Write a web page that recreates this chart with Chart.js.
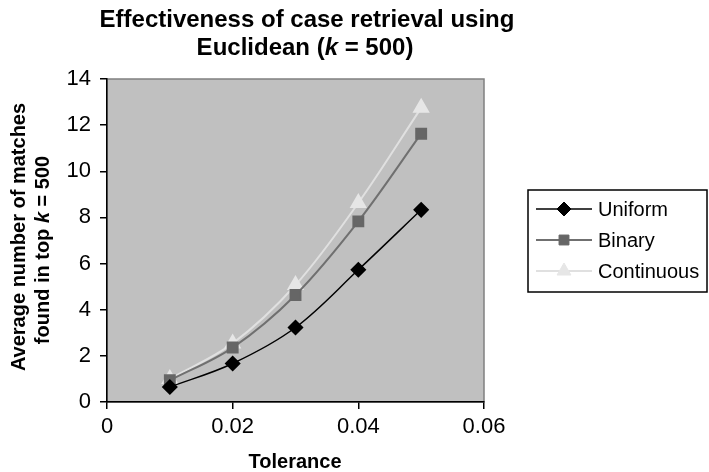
<!DOCTYPE html>
<html><head><meta charset="utf-8">
<script src="https://cdn.jsdelivr.net/npm/chart.js@4"></script>
<style>html,body{margin:0;padding:0;background:#fff}#wrap{width:709px;height:472px}</style>
</head><body><div id="wrap"><canvas id="c" width="709" height="472"></canvas></div>
<script>
const tolerance = [0.01, 0.02, 0.03, 0.04, 0.05];
const uniform = [0.65, 1.67, 3.23, 5.73, 8.33];
const binary = [0.94, 2.36, 4.64, 7.83, 11.63];
const continuous = [1.0, 2.54, 5.07, 8.63, 12.75];
const seriesNames = ['Uniform', 'Binary', 'Continuous'];

const FONT = '"Liberation Sans", Arial, sans-serif';
function pts(arr){ return tolerance.map((x,i)=>({x:x,y:arr[i]})); }

function mixedText(ctx, parts, cx, cy, size){
  let total = 0;
  const ws = parts.map(p => { ctx.font = (p[1]?'italic ':'') + 'bold ' + size + 'px ' + FONT; const w = ctx.measureText(p[0]).width; total += w; return w; });
  let x = cx - total/2;
  ctx.textAlign = 'left';
  parts.forEach((p,i) => { ctx.font = (p[1]?'italic ':'') + 'bold ' + size + 'px ' + FONT; ctx.fillText(p[0], x, cy); x += ws[i]; });
}

const deco = {
  id:'deco',
  beforeDraw(chart){
    const {ctx, chartArea:a} = chart;
    ctx.save();
    ctx.fillStyle = '#c0c0c0';
    ctx.fillRect(a.left, a.top, a.right-a.left, a.bottom-a.top);
    ctx.strokeStyle = '#808080'; ctx.lineWidth = 1.5;
    ctx.strokeRect(a.left, a.top, a.right-a.left, a.bottom-a.top);
    ctx.restore();
  },
  afterDraw(chart){
    const {ctx} = chart;
    ctx.save();
    ctx.fillStyle = '#000';
    ctx.textBaseline = 'middle';
    mixedText(ctx, [['Effectiveness of case retrieval using', false]], 307, 20, 24);
    mixedText(ctx, [['Euclidean (', false], ['k', true], [' = 500)', false]], 305, 48, 24);
    mixedText(ctx, [['Tolerance', false]], 295, 462, 20);
    ctx.save();
    ctx.translate(19, 237); ctx.rotate(-Math.PI/2);
    mixedText(ctx, [['Average number of matches', false]], 0, 0, 20);
    ctx.restore();
    ctx.save();
    ctx.translate(43, 250); ctx.rotate(-Math.PI/2);
    mixedText(ctx, [['found in top ', false], ['k', true], [' = 500', false]], 0, 0, 20);
    ctx.restore();
    const lx = 528, ly = 190, lw = 179, lh = 102;
    ctx.strokeStyle = '#000'; ctx.lineWidth = 1.5;
    ctx.strokeRect(lx, ly, lw, lh);
    chart.data.datasets.forEach((ds, i) => {
      const yy = 209 + i*31;
      ctx.strokeStyle = ds.borderColor; ctx.lineWidth = ds.borderWidth;
      ctx.beginPath(); ctx.moveTo(536, yy); ctx.lineTo(592, yy); ctx.stroke();
      ctx.fillStyle = ds.pointBackgroundColor; ctx.strokeStyle = ds.pointBorderColor; ctx.lineWidth = 1;
      Chart.helpers.drawPoint(ctx, {pointStyle: ds.pointStyle, radius: ds.pointRadius, borderWidth: 1}, 564, yy);
      ctx.fillStyle = '#000';
      ctx.font = '20px ' + FONT; ctx.textAlign = 'left';
      ctx.fillText(ds.label, 598, yy+1);
    });
    ctx.restore();
  }
};

new Chart(document.getElementById('c'), {
  type: 'line',
  data: {
    datasets: [
      {label: seriesNames[0], data: pts(uniform), borderColor:'#000', backgroundColor:'#000',
       pointBackgroundColor:'#000', pointBorderColor:'#000', pointStyle:'rectRot', pointRadius:7, borderWidth:1.5},
      {label: seriesNames[1], data: pts(binary), borderColor:'#707070', backgroundColor:'#666',
       pointBackgroundColor:'#666', pointBorderColor:'#666', pointStyle:'rect', pointRadius:7, borderWidth:2},
      {label: seriesNames[2], data: pts(continuous), borderColor:'#e0e0e0', backgroundColor:'#e6e6e6',
       pointBackgroundColor:'#e6e6e6', pointBorderColor:'#e6e6e6', pointStyle:'triangle', pointRadius:8, borderWidth:2}
    ]
  },
  options: {
    responsive:false, animation:false, devicePixelRatio:1,
    layout:{padding:{top:79, right:225, bottom:0, left:0}},
    plugins:{legend:{display:false}, title:{display:false}, tooltip:{enabled:false}},
    elements:{line:{tension:0.35}},
    scales:{
      x:{type:'linear', min:0, max:0.06,
         ticks:{stepSize:0.02, color:'#000', font:{family:FONT, size:22}, padding:5,
           callback:v=>String(Math.round(v*100)/100)},
         grid:{drawOnChartArea:false, drawTicks:true, tickLength:7, color:'#000', lineWidth:1.5},
         border:{color:'#000', width:1.5},
         afterFit:s=>{s.height = 70;}},
      y:{min:0, max:14,
         ticks:{stepSize:2, color:'#000', font:{family:FONT, size:22}, padding:9},
         grid:{drawOnChartArea:false, drawTicks:true, tickLength:7, color:'#000', lineWidth:1.5},
         border:{color:'#000', width:1.5},
         afterFit:s=>{s.width = 107;}}
    }
  },
  plugins:[deco]
});
</script></body></html>
